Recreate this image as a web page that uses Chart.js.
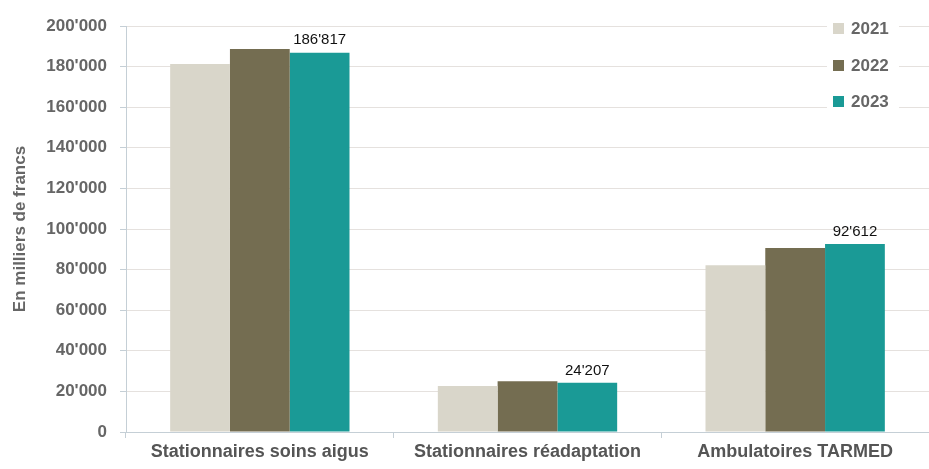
<!DOCTYPE html>
<html lang="fr">
<head>
  <meta charset="UTF-8" />
  <title>Coûts par domaine</title>
  <script src="https://cdn.jsdelivr.net/npm/chart.js"></script>
  <style>
    body {
      margin: 0;
      background: #fff;
    }
    .wrap {
      width: 929px;
      height: 469px;
    }
  </style>
</head>
<body>
  <div class="wrap"><canvas id="chart"></canvas></div>

  <script>
    const categories = ["Stationnaires soins aigus", "Stationnaires réadaptation", "Ambulatoires TARMED"];
    const years = ["2021", "2022", "2023"];
    const values2021 = [181300, 22600, 82200];
    const values2022 = [188700, 25000, 90600];
    const values2023 = [186817, 24207, 92612];
    const colors = ["#d9d6ca", "#746d51", "#1a9a96"];

    const fontFam = "'Liberation Sans Narrow', 'Arial Narrow', 'Liberation Sans', Arial, sans-serif";

    function fmt(v) {
      return String(Math.round(v)).replace(/\B(?=(\d{3})+(?!\d))/g, "'");
    }

    // étiquettes au-dessus des barres 2023 + légende à droite
    const extras = {
      id: "extras",
      afterDatasetsDraw(chart) {
        const ctx = chart.ctx;
        const meta = chart.getDatasetMeta(2);
        ctx.save();
        ctx.fillStyle = "#111";
        ctx.font = "15px " + fontFam;
        ctx.textAlign = "center";
        ctx.textBaseline = "bottom";
        meta.data.forEach((bar, i) => {
          ctx.fillText(fmt(values2023[i]), bar.x, bar.y - 5);
        });

        // légende
        const lx = 833, ys = [28, 65, 101];
        years.forEach((y, i) => {
          ctx.fillStyle = "#fff";
          ctx.fillRect(lx - 6, ys[i] - 12, 72, 24);
          ctx.fillStyle = colors[i];
          ctx.fillRect(lx, ys[i] - 5, 11, 11);
          ctx.fillStyle = "#666";
          ctx.font = "bold 17px " + fontFam;
          ctx.textAlign = "left";
          ctx.textBaseline = "middle";
          ctx.fillText(y, lx + 18, ys[i] + 1);
        });
        ctx.restore();
      }
    };

    new Chart(document.getElementById("chart"), {
      type: "bar",
      data: {
        labels: categories,
        datasets: [
          { label: years[0], data: values2021, backgroundColor: colors[0] },
          { label: years[1], data: values2022, backgroundColor: colors[1] },
          { label: years[2], data: values2023, backgroundColor: colors[2] }
        ]
      },
      options: {
        responsive: true,
        maintainAspectRatio: false,
        animation: false,
        layout: { padding: { top: 26, right: 0, left: 10, bottom: 0 } },
        plugins: {
          legend: { display: false },
          tooltip: { enabled: false }
        },
        datasets: {
          bar: { categoryPercentage: 0.67, barPercentage: 1.0 }
        },
        scales: {
          x: {
            grid: { display: true, drawOnChartArea: false, color: "#c5cfd6", tickLength: 6, offset: true },
            border: { color: "#c5cfd6" },
            ticks: {
              color: "#555",
              font: { family: fontFam, size: 18, weight: "bold" },
              padding: 3
            },
            afterFit(scale) { scale.height = 37; }
          },
          y: {
            min: 0,
            max: 200000,
            ticks: {
              stepSize: 20000,
              color: "#666",
              font: { family: fontFam, size: 17, weight: "bold" },
              padding: 13,
              callback: v => fmt(v)
            },
            grid: { color: "#e5e1de", tickLength: 6, tickColor: "#c5cfd6" },
            border: { color: "#c5cfd6" },
            title: {
              display: true,
              text: "En milliers de francs",
              color: "#666",
              font: { family: fontFam, size: 17, weight: "bold" },
              padding: { top: 0, bottom: 0 }
            },
            afterFit(scale) { scale.width = 116; }
          }
        }
      },
      plugins: [extras]
    });
  </script>
</body>
</html>
